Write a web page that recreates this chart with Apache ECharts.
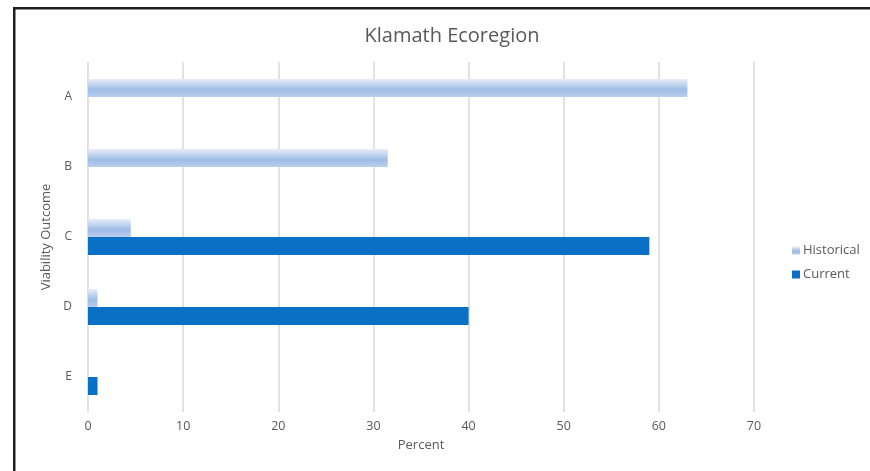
<!DOCTYPE html>
<html>
<head>
<meta charset="utf-8">
<script src="https://cdn.jsdelivr.net/npm/echarts@6/dist/echarts.min.js"></script>
<style>
  html, body { margin: 0; padding: 0; background: #fff; }
  #chart { width: 870px; height: 471px; }
</style>
</head>
<body>
<div id="chart"></div>
<script>
// viability outcome classes
const categories = ['A', 'B', 'C', 'D', 'E']
// percent of outcomes
const historical = [63, 31.5, 4.5, 1, 0]
const current = [0, 0, 59, 40, 1]
const xTicks = [0, 10, 20, 30, 40, 50, 60, 70]

const chart = echarts.init(document.getElementById('chart'), null, { renderer: 'canvas' })
const font = '"Open Sans", "Noto Sans", sans-serif'

const option = {
  backgroundColor: '#fff',
  animation: false,
  title: {
    text: 'Klamath Ecoregion',
    left: 447,
    textAlign: 'center',
    top: 21,
    textStyle: { fontFamily: font, fontSize: 20, fontWeight: 'normal', color: '#595959' }
  },
  legend: {
    orient: 'vertical',
    left: 787,
    top: 239,
    itemWidth: 8,
    itemHeight: 8,
    itemGap: 11,
    icon: 'rect',
    textStyle: { fontFamily: font, fontSize: 13, color: '#595959', padding: [0, 0, 0, -2] },
    data: ['Historical', 'Current']
  },
  grid: { left: 88, right: 116, top: 62, bottom: 59, containLabel: false },
  xAxis: {
    type: 'value',
    min: xTicks[0],
    max: xTicks[xTicks.length - 1],
    interval: 10,
    name: 'Percent',
    nameLocation: 'middle',
    nameGap: 27,
    nameTextStyle: { fontFamily: font, fontSize: 13, color: '#595959' },
    axisLine: { show: false },
    axisTick: { show: false },
    axisLabel: { fontFamily: font, fontSize: 12.5, color: '#595959', margin: 8 },
    splitLine: { show: true, lineStyle: { color: '#d9d9d9', width: 1.5 } }
  },
  yAxis: {
    type: 'category',
    data: categories,
    inverse: true,
    name: 'Viability Outcome',
    nameLocation: 'middle',
    nameGap: 34,
    nameTextStyle: { fontFamily: font, fontSize: 13, color: '#595959' },
    axisLine: { show: false },
    axisTick: { show: false },
    axisLabel: { fontFamily: font, fontSize: 12, color: '#595959', margin: 16 }
  },
  series: [
    {
      name: 'Historical',
      type: 'bar',
      data: historical,
      barWidth: 18,
      barGap: '0%',
      itemStyle: {
        color: new echarts.graphic.LinearGradient(0, 0, 0, 1, [
          { offset: 0, color: '#e8eef8' },
          { offset: 0.6, color: '#9ebce5' },
          { offset: 1, color: '#b9cfec' }
        ])
      }
    },
    {
      name: 'Current',
      type: 'bar',
      data: current,
      barWidth: 18,
      barGap: '0%',
      itemStyle: { color: '#0a70c6' }
    }
  ],
  graphic: [
    { type: 'rect', shape: { x: 13, y: 7, width: 857, height: 2.5 }, style: { fill: '#1e1e1e' } },
    { type: 'rect', shape: { x: 13, y: 7, width: 2.5, height: 464 }, style: { fill: '#1e1e1e' } }
  ]
}
chart.setOption(option)
</script>
</body>
</html>
